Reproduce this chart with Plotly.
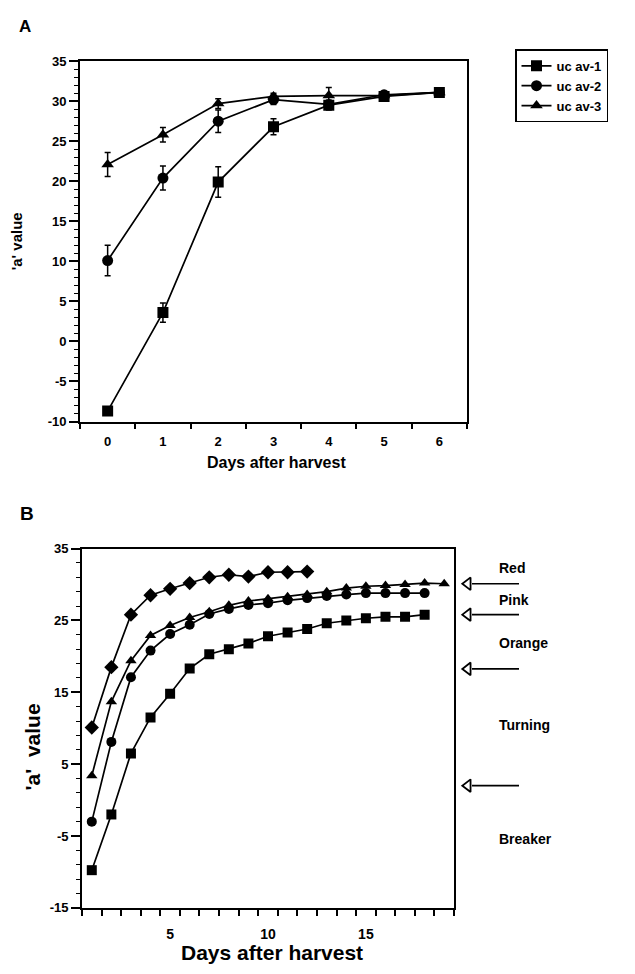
import plotly.graph_objects as go

# ---------------- Panel A data ----------------
a_days = [0, 1, 2, 3, 4, 5, 6]
a_av1 = [-8.7, 3.6, 19.9, 26.8, 29.5, 30.6, 31.1]
a_av1_err = [0.5, 1.2, 1.9, 1.0, 0.6, 0.4, 0.3]
a_av2 = [10.1, 20.4, 27.5, 30.2, 29.6, 30.8, 31.1]
a_av2_err = [1.9, 1.5, 1.4, 0.6, 0.5, 0.4, 0.3]
a_av3 = [22.1, 25.8, 29.7, 30.6, 30.7, 30.7, 31.1]
a_av3_err = [1.5, 0.9, 0.6, 0.4, 1.0, 0.4, 0.3]
a_names = ["uc av-1", "uc av-2", "uc av-3"]
a_yticks = [35, 30, 25, 20, 15, 10, 5, 0, -5, -10]

# ---------------- Panel B data ----------------
b_diamond_days = list(range(1, 13))
b_diamond = [10.1, 18.5, 25.8, 28.5, 29.4, 30.2, 31.0, 31.35, 31.1, 31.7, 31.7, 31.8]
b_triangle_days = list(range(1, 20))
b_triangle = [3.4, 13.7, 19.4, 22.9, 24.3, 25.4, 26.2, 27.1, 27.7, 28.0, 28.3,
              28.6, 29.0, 29.5, 29.75, 29.85, 30.0, 30.2, 30.1]
b_circle_days = list(range(1, 19))
b_circle = [-3.0, 8.1, 17.1, 20.8, 23.1, 24.4, 25.9, 26.6, 27.15, 27.4, 27.8,
            28.1, 28.4, 28.6, 28.8, 28.8, 28.8, 28.8]
b_square_days = list(range(1, 19))
b_square = [-9.75, -2.0, 6.5, 11.5, 14.8, 18.3, 20.3, 21.0, 21.8, 22.8, 23.3,
            23.8, 24.6, 25.0, 25.3, 25.5, 25.5, 25.8]
b_yticks = [35, 25, 15, 5, -5, -15]
b_xticks = [5, 10, 15]

# Ripening stage labels and boundary arrows (B 'a' value scale)
stage_labels = ["Red", "Pink", "Orange", "Turning", "Breaker"]
stage_label_y = [32.3, 27.8, 21.9, 10.5, -5.4]
arrow_y = [30.1, 25.8, 18.25, 2.0]

FONT = "Liberation Sans"
BLACK = "black"


def lbl(v):
    return str(v)  # plain hyphen-minus as in the reference


fig = go.Figure()

# Panel A traces
for name, ys, err, sym in zip(a_names, [a_av1, a_av2, a_av3],
                              [a_av1_err, a_av2_err, a_av3_err],
                              ["square", "circle", "triangle-up"]):
    fig.add_trace(go.Scatter(
        x=a_days, y=ys, name=name, mode="lines+markers",
        line=dict(color=BLACK, width=1.7),
        marker=dict(symbol=sym, size=11, color=BLACK),
        error_y=dict(type="data", array=err, color=BLACK, thickness=1.5, width=3),
        xaxis="x", yaxis="y", showlegend=True,
    ))

# Panel B traces
for xs, ys, sym, sz in [(b_diamond_days, b_diamond, "diamond", 11),
                        (b_triangle_days, b_triangle, "triangle-up", 10),
                        (b_circle_days, b_circle, "circle", 10),
                        (b_square_days, b_square, "square", 10)]:
    fig.add_trace(go.Scatter(
        x=xs, y=ys, mode="lines+markers",
        line=dict(color=BLACK, width=1.7),
        marker=dict(symbol=sym, size=sz, color=BLACK),
        xaxis="x2", yaxis="y2", showlegend=False,
    ))

# stage-boundary arrows: drawn on a hidden helper x-axis to the right of panel B
fig.add_trace(go.Scatter(
    x=[0.1] * len(arrow_y), y=arrow_y, mode="markers",
    marker=dict(symbol="triangle-left-open", size=11, color=BLACK,
                line=dict(width=1.8, color=BLACK)),
    cliponaxis=False, xaxis="x3", yaxis="y2", showlegend=False, hoverinfo="skip",
))
shapes = []
for yv in arrow_y:
    shapes.append(dict(type="line", xref="paper", yref="y2",
                       x0=472 / 635, x1=519 / 635, y0=yv, y1=yv,
                       line=dict(color=BLACK, width=1.7)))

annotations = []
for txt, yv in zip(stage_labels, stage_label_y):
    annotations.append(dict(text=txt, xref="paper", yref="y2", x=497 / 635, y=yv,
                            xanchor="left", yanchor="middle", showarrow=False,
                            font=dict(family=FONT, size=14, color=BLACK, weight="bold")))

# panel letters
annotations.append(dict(text="A", xref="paper", yref="paper", x=25 / 635, y=1 - 19.5 / 974,
                        xanchor="center", yanchor="middle", showarrow=False,
                        font=dict(family=FONT, size=17, color=BLACK, weight="bold")))
annotations.append(dict(text="B", xref="paper", yref="paper", x=27 / 635, y=1 - 514 / 974,
                        xanchor="center", yanchor="middle", showarrow=False,
                        font=dict(family=FONT, size=19, color=BLACK, weight="bold")))
# axis titles
annotations.append(dict(text="Days after harvest", xref="paper", yref="paper",
                        x=276 / 635, y=1 - 463 / 974, xanchor="center", yanchor="middle",
                        showarrow=False,
                        font=dict(family=FONT, size=16, color=BLACK, weight="bold")))
annotations.append(dict(text="'a' value", xref="paper", yref="paper",
                        x=16 / 635, y=1 - 238 / 974, xanchor="center", yanchor="middle",
                        textangle=-90, showarrow=False,
                        font=dict(family=FONT, size=15, color=BLACK, weight="bold")))
annotations.append(dict(text="Days after harvest", xref="paper", yref="paper",
                        x=272 / 635, y=1 - 960 / 974, xanchor="center", yanchor="middle",
                        showarrow=False,
                        font=dict(family=FONT, size=21, color=BLACK, weight="bold")))
annotations.append(dict(text="'a'  value", xref="paper", yref="paper",
                        x=32 / 635, y=1 - 752 / 974, xanchor="center", yanchor="middle",
                        textangle=-90, showarrow=False,
                        font=dict(family=FONT, size=21, color=BLACK, weight="bold")))

a_half = [i - 0.5 for i in range(0, 8)]
b_half = [i + 0.5 for i in range(0, 20)]

common_axis = dict(showgrid=False, zeroline=False, showline=True, linecolor=BLACK,
                   linewidth=1.8, mirror=True, color=BLACK)

fig.update_layout(
    width=635, height=974,
    margin=dict(l=0, r=0, t=0, b=0),
    paper_bgcolor="white", plot_bgcolor="white",
    font=dict(family=FONT, color=BLACK),
    showlegend=True,
    legend=dict(x=515 / 635, y=1 - 43 / 974, xanchor="left", yanchor="top",
                bordercolor=BLACK, borderwidth=1.5, bgcolor="white",
                font=dict(family=FONT, size=13, color=BLACK, weight="bold"),
                itemwidth=30, tracegroupgap=2),
    xaxis=dict(domain=[80 / 635, 467 / 635], anchor="y", range=[-0.5, 6.5],
               tickmode="array", tickvals=a_days, ticks="", ticklabelstandoff=7,
               tickfont=dict(family=FONT, size=13, color=BLACK, weight="bold"),
               minor=dict(tickmode="array", tickvals=a_half, ticks="outside",
                          ticklen=6, tickwidth=1.6, tickcolor=BLACK),
               **common_axis),
    yaxis=dict(domain=[1 - 421 / 974, 1 - 55 / 974], anchor="x", range=[-10, 35],
               tickmode="array", tickvals=a_yticks, ticktext=[lbl(v) for v in a_yticks],
               ticks="outside", ticklen=9, tickwidth=1.6, tickcolor=BLACK,
               tickfont=dict(family=FONT, size=13, color=BLACK, weight="bold"),
               minor=dict(dtick=1, tick0=0, ticks="outside", ticklen=4, tickwidth=1.2,
                          tickcolor=BLACK),
               **common_axis),
    xaxis2=dict(domain=[82 / 635, 454 / 635], anchor="y2", range=[0.5, 19.5],
                tickmode="array", tickvals=b_xticks, ticks="", ticklabelstandoff=12,
                tickfont=dict(family=FONT, size=14, color=BLACK, weight="bold"),
                minor=dict(tickmode="array", tickvals=b_half, ticks="outside",
                           ticklen=6, tickwidth=1.6, tickcolor=BLACK),
                **common_axis),
    yaxis2=dict(domain=[1 - 915 / 974, 1 - 550 / 974], anchor="x2", range=[-15, 35],
                tickmode="array", tickvals=b_yticks, ticktext=[lbl(v) for v in b_yticks],
                ticks="outside", ticklen=9, tickwidth=1.6, tickcolor=BLACK,
                tickfont=dict(family=FONT, size=13, color=BLACK, weight="bold"),
                minor=dict(dtick=2, tick0=1, ticks="outside", ticklen=4, tickwidth=1.2,
                           tickcolor=BLACK),
                **common_axis),
    xaxis3=dict(domain=[462 / 635, 520 / 635], anchor="y2", range=[0, 1],
                visible=False, showgrid=False, zeroline=False),
    shapes=shapes,
    annotations=annotations,
)

fig.write_html("out.html")
